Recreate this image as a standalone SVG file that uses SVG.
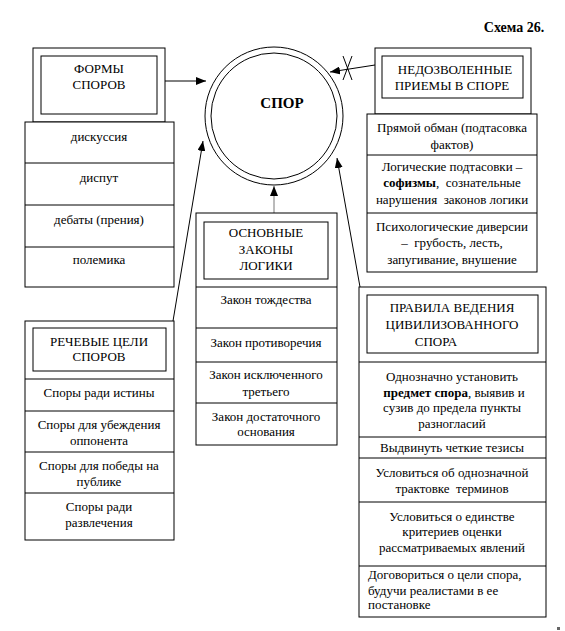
<svg xmlns="http://www.w3.org/2000/svg" width="565" height="631" viewBox="0 0 565 631">
<style>
text{font-family:'Liberation Serif',serif;font-size:13px;fill:#000;text-anchor:middle}
.b{font-weight:bold}
.box{fill:#fff;stroke:#000;stroke-width:1}
.ln{stroke:#000;stroke-width:1;fill:none}
.con{stroke:#000;stroke-width:1;fill:none;marker-end:url(#ah)}
</style>
<defs>
<marker id="ah" markerUnits="userSpaceOnUse" markerWidth="11" markerHeight="8" refX="10" refY="4" orient="auto">
<path d="M0,0 L10,4 L0,8 z" fill="#000"/>
</marker>
</defs>
<rect width="565" height="631" fill="#fff"/>
<text class="b" x="514" y="32" style="font-size:14px">Схема 26.</text>

<g id="connectors">
<line class="con" x1="165" y1="81" x2="206" y2="81"/>
<line class="con" x1="375" y1="65" x2="330" y2="72"/>
<line class="ln" x1="343" y1="56" x2="352" y2="80"/>
<line class="ln" x1="352" y1="56" x2="343" y2="80"/>
<line x1="274" y1="213" x2="274" y2="186" style="stroke:#777;stroke-width:1;marker-end:url(#ah)"/>
<line class="con" x1="173" y1="321" x2="203" y2="141"/>
<line class="con" x1="360" y1="287" x2="337" y2="158"/>
</g>

<g id="spor">
<circle class="box" cx="274" cy="116" r="69"/>
<circle class="box" cx="274" cy="116" r="63"/>
<text class="b" x="282" y="108" style="font-size:15px">СПОР</text>
</g>

<g id="formy">
<rect class="box" x="33" y="48" width="132" height="74"/>
<rect class="box" x="41" y="56" width="116" height="58"/>
<text x="99" y="73">ФОРМЫ</text>
<text x="99" y="89">СПОРОВ</text>
<rect class="box" x="25" y="122" width="149" height="165"/>
<line class="ln" x1="25" y1="163" x2="174" y2="163"/>
<line class="ln" x1="25" y1="205" x2="174" y2="205"/>
<line class="ln" x1="25" y1="247" x2="174" y2="247"/>
<text x="99" y="141">дискуссия</text>
<text x="99" y="182">диспут</text>
<text x="99" y="224">дебаты (прения)</text>
<text x="99" y="264">полемика</text>
</g>

<g id="nedozv">
<rect class="box" x="375" y="48" width="156" height="66"/>
<rect class="box" x="382" y="56" width="141" height="42"/>
<text x="455" y="74">НЕДОЗВОЛЕННЫЕ</text>
<text x="452" y="90">ПРИЕМЫ В СПОРЕ</text>
<rect class="box" x="367" y="114" width="170" height="158"/>
<line class="ln" x1="367" y1="155" x2="537" y2="155"/>
<line class="ln" x1="367" y1="213" x2="537" y2="213"/>
<text x="452" y="132">Прямой обман (подтасовка</text>
<text x="452" y="149">фактов)</text>
<text x="452" y="171">Логические подтасовки –</text>
<text x="452" y="187" xml:space="preserve"><tspan class="b">софизмы</tspan>,  сознательные</text>
<text x="452" y="204" xml:space="preserve">нарушения  законов логики</text>
<text x="452" y="231">Психологические диверсии</text>
<text x="452" y="247" xml:space="preserve">–  грубость, лесть,</text>
<text x="452" y="264">запугивание, внушение</text>
</g>

<g id="zakony">
<rect class="box" x="196" y="213" width="141" height="232"/>
<rect class="box" x="204" y="222" width="124" height="57"/>
<text x="266" y="237">ОСНОВНЫЕ</text>
<text x="266" y="254">ЗАКОНЫ</text>
<text x="266" y="270">ЛОГИКИ</text>
<line class="ln" x1="196" y1="287" x2="337" y2="287"/>
<line class="ln" x1="196" y1="328" x2="337" y2="328"/>
<line class="ln" x1="196" y1="362" x2="337" y2="362"/>
<line class="ln" x1="196" y1="403" x2="337" y2="403"/>
<text x="266" y="304">Закон тождества</text>
<text x="266" y="347">Закон противоречия</text>
<text x="266" y="379">Закон исключенного</text>
<text x="266" y="396">третьего</text>
<text x="266" y="421">Закон достаточного</text>
<text x="266" y="436">основания</text>
</g>

<g id="rechevye">
<rect class="box" x="25" y="321" width="149" height="219"/>
<rect class="box" x="33" y="328" width="133" height="43"/>
<text x="99" y="346">РЕЧЕВЫЕ ЦЕЛИ</text>
<text x="99" y="361">СПОРОВ</text>
<line class="ln" x1="25" y1="379" x2="174" y2="379"/>
<line class="ln" x1="25" y1="411" x2="174" y2="411"/>
<line class="ln" x1="25" y1="452" x2="174" y2="452"/>
<line class="ln" x1="25" y1="493" x2="174" y2="493"/>
<text x="99" y="397">Споры ради истины</text>
<text x="99" y="429">Споры для убеждения</text>
<text x="99" y="445">оппонента</text>
<text x="99" y="470">Споры для победы на</text>
<text x="99" y="486">публике</text>
<text x="99" y="511">Споры ради</text>
<text x="99" y="527">развлечения</text>
</g>

<g id="pravila">
<rect class="box" x="359" y="287" width="187" height="330"/>
<rect class="box" x="367" y="295" width="171" height="58"/>
<text x="452" y="312">ПРАВИЛА ВЕДЕНИЯ</text>
<text x="452" y="329">ЦИВИЛИЗОВАННОГО</text>
<text x="436" y="346">СПОРА</text>
<line class="ln" x1="359" y1="362" x2="546" y2="362"/>
<line class="ln" x1="359" y1="437" x2="546" y2="437"/>
<line class="ln" x1="359" y1="458" x2="546" y2="458"/>
<line class="ln" x1="359" y1="502" x2="546" y2="502"/>
<line class="ln" x1="359" y1="566" x2="546" y2="566"/>
<text x="452" y="381">Однозначно установить</text>
<text x="454" y="397"><tspan class="b">предмет спора</tspan>, выявив и</text>
<text x="452" y="412">сузив до предела пункты</text>
<text x="452" y="428">разногласий</text>
<text x="452" y="452">Выдвинуть четкие тезисы</text>
<text x="452" y="477">Условиться об однозначной</text>
<text x="452" y="493" xml:space="preserve">трактовке  терминов</text>
<text x="452" y="521">Условиться о единстве</text>
<text x="452" y="536">критериев оценки</text>
<text x="452" y="552">рассматриваемых явлений</text>
<text x="368" y="579" style="text-anchor:start">Договориться о цели спора,</text>
<text x="368" y="595" style="text-anchor:start">будучи реалистами в ее</text>
<text x="368" y="609" style="text-anchor:start">постановке</text>
</g>
<rect x="557" y="627" width="3" height="3" fill="#666"/>
</svg>
